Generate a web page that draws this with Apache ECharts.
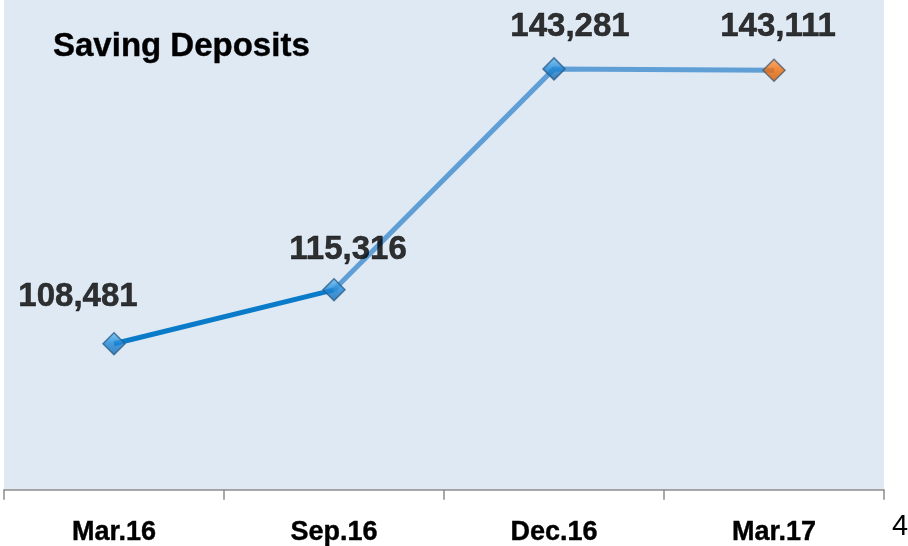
<!DOCTYPE html>
<html>
<head>
<meta charset="utf-8">
<script src="https://cdn.jsdelivr.net/npm/echarts@6/dist/echarts.min.js"></script>
<style>
  html, body { margin: 0; padding: 0; background: #fff; }
  #chart { width: 908px; height: 546px; }
</style>
</head>
<body>
<div id="chart"></div>
<script>
// data
const categories = ['Mar.16', 'Sep.16', 'Dec.16', 'Mar.17'];
const deposits = [108481, 115316, 143281, 143111];
const markerColors = ['#1f86d6', '#1f86d6', '#1f86d6', '#f06d0a'];
// nudges for each value label above its marker
const labelOffsets = [[-36, -14], [14, -7], [16, -9], [4, -10]];

const chart = echarts.init(document.getElementById('chart'));

const fmt = v => v.toLocaleString('en-US');
const FONT = '"Liberation Sans", Arial, sans-serif';

chart.setOption({
  backgroundColor: '#ffffff',
  animation: false,
  grid: {
    left: 4,
    right: 24,
    top: 0,
    bottom: 56,
    show: true,
    backgroundColor: '#dfe9f4',
    borderWidth: 0
  },
  graphic: [
    {
      type: 'text',
      x: 53,
      y: 47,
      style: {
        text: 'Saving Deposits',
        font: 'bold 33px ' + FONT,
        fill: '#000',
        stroke: '#000',
        lineWidth: 0.4,
        textVerticalAlign: 'middle'
      }
    },
    {
      type: 'text',
      x: 892,
      y: 527,
      style: {
        text: '4',
        font: '29px ' + FONT,
        fill: '#000',
        textVerticalAlign: 'middle'
      }
    }
  ],
  xAxis: {
    type: 'category',
    data: categories,
    boundaryGap: true,
    axisLine: { lineStyle: { color: '#8c8c8c', width: 1.5 } },
    axisTick: { show: true, length: 10, lineStyle: { color: '#8c8c8c', width: 1.5 } },
    axisLabel: {
      margin: 29,
      color: '#000',
      fontFamily: FONT,
      fontWeight: 'bold',
      fontSize: 27,
      textBorderColor: '#000',
      textBorderWidth: 0.4
    }
  },
  yAxis: {
    type: 'value',
    min: 90000,
    max: 152000,
    show: false,
    splitLine: { show: false }
  },
  series: [
    {
      type: 'line',
      data: deposits.map((v, i) => (i <= 1 ? v : '-')),
      symbol: 'none',
      lineStyle: { color: '#0a7bc9', width: 5 },
      z: 2
    },
    {
      type: 'line',
      data: deposits.map((v, i) => (i >= 1 ? v : '-')),
      symbol: 'none',
      lineStyle: { color: '#5f9fd6', width: 5 },
      z: 2
    },
    {
      type: 'scatter',
      symbol: 'diamond',
      symbolSize: 22,
      z: 3,
      label: {
        show: true,
        position: 'top',
        distance: 5,
        formatter: p => fmt(p.value),
        color: '#000000',
        fontFamily: FONT,
        fontWeight: 'bold',
        fontSize: 33,
        textBorderColor: '#000000',
        textBorderWidth: 0.5
      },
      data: deposits.map((v, i) => ({
        value: v,
        itemStyle: {
          color: {
            type: 'linear', x: 0, y: 0, x2: 0, y2: 1,
            colorStops: [
              { offset: 0, color: i === 3 ? '#ffa050' : '#6cc0f5' },
              { offset: 0.5, color: markerColors[i] },
              { offset: 1, color: i === 3 ? '#c85a08' : '#1468b0' }
            ]
          },
          borderColor: i === 3 ? '#505a6a' : '#2b5f8a',
          borderWidth: 1.5
        },
        label: { offset: labelOffsets[i] }
      }))
    }
  ]
});
</script>
</body>
</html>
